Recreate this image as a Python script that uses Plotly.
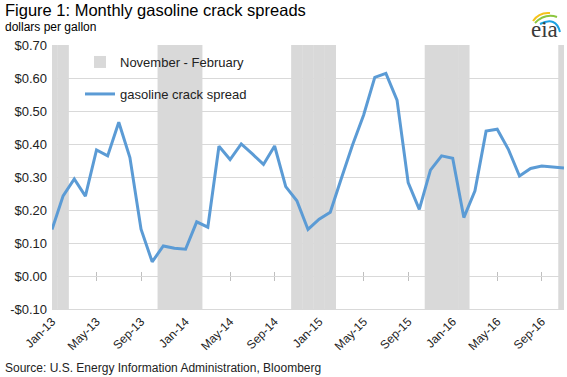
import plotly.graph_objects as go

# ---------------- data ----------------
months = [
    "Jan-13", "Feb-13", "Mar-13", "Apr-13", "May-13", "Jun-13", "Jul-13", "Aug-13", "Sep-13", "Oct-13", "Nov-13", "Dec-13",
    "Jan-14", "Feb-14", "Mar-14", "Apr-14", "May-14", "Jun-14", "Jul-14", "Aug-14", "Sep-14", "Oct-14", "Nov-14", "Dec-14",
    "Jan-15", "Feb-15", "Mar-15", "Apr-15", "May-15", "Jun-15", "Jul-15", "Aug-15", "Sep-15", "Oct-15", "Nov-15", "Dec-15",
    "Jan-16", "Feb-16", "Mar-16", "Apr-16", "May-16", "Jun-16", "Jul-16", "Aug-16", "Sep-16", "Oct-16", "Nov-16",
]
crack_spread = [
    0.141, 0.243, 0.294, 0.242, 0.382, 0.364, 0.466, 0.359, 0.142, 0.043, 0.091, 0.084,
    0.081, 0.164, 0.148, 0.393, 0.353, 0.400, 0.370, 0.338, 0.394, 0.271, 0.228, 0.141,
    0.172, 0.193, 0.296, 0.397, 0.488, 0.602, 0.614, 0.533, 0.283, 0.202, 0.321, 0.364,
    0.357, 0.177, 0.258, 0.439, 0.445, 0.384, 0.303, 0.326, 0.333, 0.330, 0.327,
]
winter_months = ["Nov", "Dec", "Jan", "Feb"]
y_tick_vals = [-0.1, 0.0, 0.1, 0.2, 0.3, 0.4, 0.5, 0.6, 0.7]
y_tick_text = ["-$0.10", "$0.00", "$0.10", "$0.20", "$0.30", "$0.40", "$0.50", "$0.60", "$0.70"]
x_tick_labels = ["Jan-13", "May-13", "Sep-13", "Jan-14", "May-14", "Sep-14",
                 "Jan-15", "May-15", "Sep-15", "Jan-16", "May-16", "Sep-16"]

# ---------------- derived ----------------
x_idx = list(range(len(months)))
x_tick_vals = [months.index(m) for m in x_tick_labels]
y_min, y_max = y_tick_vals[0], y_tick_vals[-1]
shade = [(y_max - y_min) if m[:3] in winter_months else 0 for m in months]

W, H = 567, 377
ML, MR, MT, MB = 52, 3, 45, 68
PW, PH = W - ML - MR, H - MT - MB


def px(x):
    return (x - ML) / PW


def py(y):
    return (H - MB - y) / PH


FONT = "Liberation Sans, Arial, sans-serif"
GRID = "#D9D9D9"
LINE = "#5B9BD5"

fig = go.Figure()
fig.add_trace(go.Bar(
    x=x_idx, y=shade, base=y_min, width=1.03,
    marker=dict(color="#D9D9D9", line=dict(width=0)),
    name="November - February", legend="legend",
    hoverinfo="skip",
))
fig.add_trace(go.Scatter(
    x=x_idx, y=crack_spread, mode="lines",
    line=dict(color=LINE, width=3),
    name="gasoline crack spread", legend="legend2",
))

axis_common = dict(range=[0, len(months) - 1], tickvals=x_tick_vals, showgrid=False,
                   showticklabels=False, zeroline=False, showline=False,
                   overlaying="x", anchor="free", position=(0 - y_min) / (y_max - y_min),
                   layer="below traces", tickcolor="#BFBFBF", tickwidth=1, ticklen=4)

fig.update_layout(
    width=W, height=H,
    margin=dict(l=ML, r=MR, t=MT, b=MB),
    paper_bgcolor="white", plot_bgcolor="white",
    font=dict(family=FONT, color="#222222"),
    barmode="overlay",
    xaxis=dict(
        range=[0, len(months) - 1], tickvals=x_tick_vals, ticktext=x_tick_labels,
        tickangle=-45, tickfont=dict(size=12, color="#222222"),
        showgrid=False, zeroline=False, showline=True, linecolor=GRID, linewidth=1,
        ticks="",
    ),
    xaxis2=dict(ticks="outside", **axis_common),
    xaxis3=dict(ticks="inside", **axis_common),
    yaxis=dict(
        range=[y_min, y_max], tickvals=y_tick_vals, ticktext=y_tick_text,
        tickfont=dict(size=13, color="#222222"),
        showgrid=True, gridcolor=GRID, gridwidth=1, zeroline=False, showline=False,
        ticks="", ticklabelstandoff=4,
    ),
    legend=dict(x=px(80), y=py(62), xanchor="left", yanchor="middle",
                bgcolor="rgba(0,0,0,0)", font=dict(size=13, color="#222222")),
    legend2=dict(x=px(80), y=py(94), xanchor="left", yanchor="middle",
                 bgcolor="rgba(0,0,0,0)", font=dict(size=13, color="#222222")),
    showlegend=True,
)

annotations = [
    dict(text="Figure 1: Monthly gasoline crack spreads", x=px(3), y=py(10),
         xanchor="left", yanchor="middle", showarrow=False,
         font=dict(size=16.5, color="#000000", family=FONT)),
    dict(text="dollars per gallon", x=px(3), y=py(27),
         xanchor="left", yanchor="middle", showarrow=False,
         font=dict(size=12, color="#000000", family=FONT)),
    dict(text="Source: U.S. Energy Information Administration, Bloomberg", x=px(3), y=py(368),
         xanchor="left", yanchor="middle", showarrow=False,
         font=dict(size=12, color="#222222", family=FONT)),
    dict(text="eia", x=px(544), y=py(30), xanchor="center", yanchor="middle", showarrow=False,
         font=dict(size=23, color="#3a3a3a", family="Liberation Serif, Times New Roman, serif")),
]
for a in annotations:
    a.update(xref="paper", yref="paper")
fig.update_layout(annotations=annotations)


def arc(p0, c, p1, color):
    return dict(type="path", xref="paper", yref="paper",
                path=f"M {px(p0[0])},{py(p0[1])} Q {px(c[0])},{py(c[1])} {px(p1[0])},{py(p1[1])}",
                line=dict(color=color, width=2))


fig.update_layout(shapes=[
    arc((533, 21), (539, 12), (550, 13), "#F5C21B"),
    arc((535, 23), (545, 13), (557, 17), "#8CC63E"),
    arc((540, 24), (556, 16), (560, 32), "#1BA1E2"),
])

# make overlay axes render
fig.add_trace(go.Scatter(x=[None], y=[None], xaxis="x2", showlegend=False, hoverinfo="skip"))
fig.add_trace(go.Scatter(x=[None], y=[None], xaxis="x3", showlegend=False, hoverinfo="skip"))

fig.write_html("out.html", config={"displayModeBar": False},
               post_script="document.body.style.margin='0px';document.body.style.overflow='hidden';")
